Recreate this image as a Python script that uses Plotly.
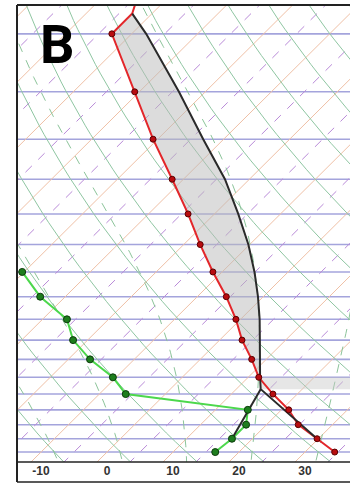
import numpy as np
import plotly.graph_objects as go

# ---------------- data (temperatures in deg C, pressures in hPa) ----------------
P_LEVELS = [200, 250, 300, 350, 400, 450, 500, 550, 600, 650, 700, 750, 800, 850, 900, 950, 1000]
T_ENV = [-63.0, -50.7, -40.7, -31.7, -24.0, -17.5, -11.4, -5.6, -0.7, 3.4, 7.8, 11.6, 16.3, 21.1, 24.8, 29.8, 34.5]
P_ENV_TOP = [175, 185]
T_ENV_TOP = [-64.5, -63.0]

P_TD = [500, 550, 600, 650, 700, 750, 800, 850, 900, 950, 1000]
TD = [-40.3, -33.8, -26.3, -22.2, -16.7, -10.5, -6.0, 14.9, 16.9, 16.9, 16.4]

P_PARCEL = [950, 785, 750, 700, 650, 600, 550, 500, 450, 400, 350, 300, 250, 200, 185]
T_PARCEL = [29.8, 13.7, 11.8, 9.1, 6.1, 2.9, -0.8, -5.1, -10.2, -16.4, -23.7, -33.1, -44.0, -57.8, -63.0]

P_MIXLINE = [950, 785]
T_MIXLINE = [16.9, 13.7]

X_TICKS = [-10, 0, 10, 20, 30]
PANEL_LABEL = "B"

# ---------------- diagram geometry ----------------
SKEW = 39.6
P_BOT, P_TOP = 1039, 179
X_MIN, X_MAX = -13.64, 36.82


def skx(t, p):
    return np.asarray(t, float) + SKEW * np.log(1000.0 / np.asarray(p, float))


fig = go.Figure()

# isobars
ISOBARS = list(range(200, 1001, 50))
xs, ys = [], []
for p in ISOBARS:
    xs += [X_MIN - 5, X_MAX + 5, None]
    ys += [p, p, None]
fig.add_trace(go.Scatter(x=xs, y=ys, mode="lines", line=dict(color="#a4a4dc", width=1.6), hoverinfo="skip"))

# isotherms (solid tan) and dashed purple lines
pp = np.array([1100.0, 150.0])
xs, ys = [], []
for t in range(-130, 60, 10):
    xs += list(skx([t, t], pp)) + [None]
    ys += list(pp) + [None]
fig.add_trace(go.Scatter(x=xs, y=ys, mode="lines", line=dict(color="#efc0a6", width=1), hoverinfo="skip"))
xs, ys = [], []
for t in range(-125, 60, 10):
    xs += list(skx([t, t], pp)) + [None]
    ys += list(pp) + [None]
fig.add_trace(go.Scatter(x=xs, y=ys, mode="lines", line=dict(color="#b98ad8", width=1, dash="dash"), hoverinfo="skip"))

# dry adiabats
pg = np.exp(np.linspace(np.log(1100), np.log(150), 60))
xs, ys = [], []
for t0 in range(-58, 150, 10):
    th = t0 + 273.15
    tt = th * (pg / 1000.0) ** 0.2857 - 273.15
    xs += list(skx(tt, pg)) + [None]
    ys += list(pg) + [None]
fig.add_trace(go.Scatter(x=xs, y=ys, mode="lines", line=dict(color="#8fc6a2", width=1), hoverinfo="skip"))

# moist adiabats (pseudo-adiabatic integration)
Rd, Cp, Lv, EPS = 287.04, 1005.7, 2.501e6, 0.622


def dTdlnp(tk, p):
    es = 6.112 * np.exp(17.67 * (tk - 273.15) / (tk - 29.65))
    rs = EPS * es / (p - es)
    return (Rd * tk + Lv * rs) / (Cp + Lv * Lv * rs * EPS / (Rd * tk * tk))


def moist(t0):
    out_p, out_t = [], []
    for pend in (150.0, 1100.0):
        lp = np.linspace(np.log(1000.0), np.log(pend), 80)
        tk = t0 + 273.15
        seg_t = [tk]
        for i in range(len(lp) - 1):
            h = lp[i + 1] - lp[i]
            p1 = np.exp(lp[i])
            pm = np.exp(lp[i] + h / 2)
            p2 = np.exp(lp[i + 1])
            k1 = dTdlnp(tk, p1)
            k2 = dTdlnp(tk + h * k1 / 2, pm)
            k3 = dTdlnp(tk + h * k2 / 2, pm)
            k4 = dTdlnp(tk + h * k3, p2)
            tk = tk + h * (k1 + 2 * k2 + 2 * k3 + k4) / 6
            seg_t.append(tk)
        if pend < 1000:
            out_p = list(np.exp(lp))[::-1]
            out_t = list(np.array(seg_t) - 273.15)[::-1]
        else:
            out_p += list(np.exp(lp))[1:]
            out_t += list(np.array(seg_t) - 273.15)[1:]
    return np.array(out_p), np.array(out_t)


xs, ys = [], []
for t0 in range(-18, 45, 10):
    mp, mt = moist(t0)
    xs += list(skx(mt, mp)) + [None]
    ys += list(mp) + [None]
fig.add_trace(go.Scatter(x=xs, y=ys, mode="lines", line=dict(color="#8cc49a", width=1, dash="dash"), hoverinfo="skip"))

# ---------------- shaded areas ----------------
env_p = P_ENV_TOP + P_LEVELS
env_t = T_ENV_TOP + T_ENV
par_idx = [i for i, p in enumerate(P_PARCEL) if p <= 750]
env_idx = [i for i, p in enumerate(env_p) if 185 <= p <= 750]
poly_x = list(skx([T_PARCEL[i] for i in par_idx], [P_PARCEL[i] for i in par_idx]))
poly_y = [P_PARCEL[i] for i in par_idx]
poly_x += list(skx([env_t[i] for i in env_idx], [env_p[i] for i in env_idx]))
poly_y += [env_p[i] for i in env_idx]
fig.add_trace(go.Scatter(x=poly_x, y=poly_y, mode="lines", fill="toself",
                         fillcolor="rgba(185,185,185,0.5)", line=dict(width=0), hoverinfo="skip"))

band_x = [float(skx(T_PARCEL[1], P_PARCEL[1])), X_MAX + 5, X_MAX + 5, float(skx(T_PARCEL[2], P_PARCEL[2]))]
band_y = [P_PARCEL[1], P_PARCEL[1], P_PARCEL[2], P_PARCEL[2]]
fig.add_trace(go.Scatter(x=band_x, y=band_y, mode="lines", fill="toself",
                         fillcolor="rgba(200,200,200,0.45)", line=dict(width=0), hoverinfo="skip"))

# ---------------- sounding ----------------
fig.add_trace(go.Scatter(x=skx(env_t, env_p), y=env_p, mode="lines",
                         line=dict(color="#e3262a", width=2), hoverinfo="skip"))
fig.add_trace(go.Scatter(x=skx(TD, P_TD), y=P_TD, mode="lines",
                         line=dict(color="#4cd84c", width=2), hoverinfo="skip"))
fig.add_trace(go.Scatter(x=skx(T_PARCEL, P_PARCEL), y=P_PARCEL, mode="lines",
                         line=dict(color="#2a2a2a", width=2), hoverinfo="skip"))
fig.add_trace(go.Scatter(x=skx(T_MIXLINE, P_MIXLINE), y=P_MIXLINE, mode="lines",
                         line=dict(color="#2a2a2a", width=2), hoverinfo="skip"))
fig.add_trace(go.Scatter(x=skx(T_ENV, P_LEVELS), y=P_LEVELS, mode="markers",
                         marker=dict(color="#b80c10", size=6, line=dict(color="#5a0000", width=1)),
                         hoverinfo="skip"))
fig.add_trace(go.Scatter(x=skx(TD, P_TD), y=P_TD, mode="markers",
                         marker=dict(color="#1d7d1d", size=7, line=dict(color="#0b3b0b", width=1)),
                         hoverinfo="skip"))

# ---------------- layout ----------------
W, H = 350, 483
ml, mr, mt, mb = 17, 0, 5, 21
ph = H - mt - mb
ybot = -(482 - (H - mb)) / ph

fig.update_layout(
    width=W, height=H,
    margin=dict(l=ml, r=mr, t=mt, b=mb, pad=0),
    paper_bgcolor="white", plot_bgcolor="white",
    showlegend=False,
    xaxis=dict(range=[X_MIN, X_MAX], tickvals=X_TICKS, ticktext=[str(v) for v in X_TICKS],
               ticks="", showgrid=False, zeroline=False, showline=False,
               tickfont=dict(family="Liberation Sans, Arial", size=12, color="#333333", weight="bold")),
    yaxis=dict(type="log", range=[np.log10(P_BOT), np.log10(P_TOP)], showticklabels=False,
               ticks="", showgrid=False, zeroline=False, showline=False),
    shapes=[
        dict(type="line", xref="paper", yref="paper", x0=0, x1=1.02, y0=1, y1=1, line=dict(color="#222", width=2)),
        dict(type="line", xref="paper", yref="paper", x0=0, x1=0, y0=ybot, y1=1, line=dict(color="#222", width=2)),
        dict(type="line", xref="paper", yref="paper", x0=0, x1=1.02, y0=0, y1=0, line=dict(color="#222", width=1.5)),
        dict(type="line", xref="paper", yref="paper", x0=0, x1=1.02, y0=ybot, y1=ybot, line=dict(color="#222", width=1.5)),
    ],
    annotations=[dict(text="<b>%s</b>" % PANEL_LABEL, xref="paper", yref="paper",
                      x=(57 - ml) / (W - ml - mr), y=1 - (44 - mt) / ph, xanchor="center", yanchor="middle",
                      showarrow=False, font=dict(family="Roboto, Liberation Sans, Arial", size=54, color="black"))],
)

fig.write_html("out.html", config={"displayModeBar": False},
               post_script="document.body.style.margin='0';document.body.style.overflow='hidden';")
